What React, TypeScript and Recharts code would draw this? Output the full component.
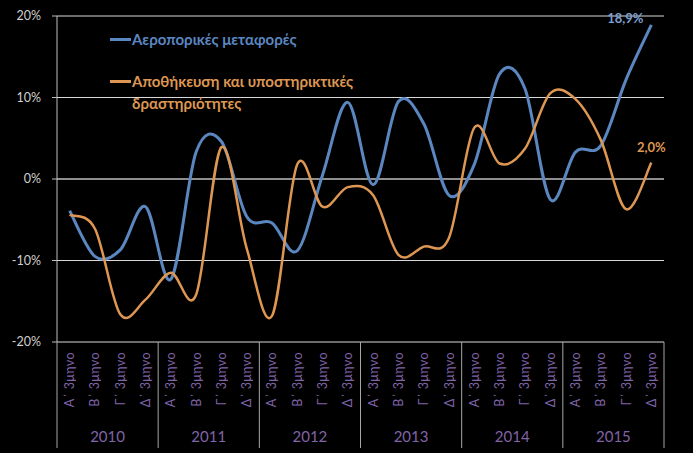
import { CartesianGrid, LabelList, Legend, Line, LineChart, ReferenceLine, XAxis, YAxis } from 'recharts';

const QUARTERS = [
  'Α΄ 3μηνο', 'Β΄ 3μηνο', 'Γ΄ 3μηνο', 'Δ΄ 3μηνο',
  'Α΄ 3μηνο', 'Β΄ 3μηνο', 'Γ΄ 3μηνο', 'Δ΄ 3μηνο',
  'Α΄ 3μηνο', 'Β΄ 3μηνο', 'Γ΄ 3μηνο', 'Δ΄ 3μηνο',
  'Α΄ 3μηνο', 'Β΄ 3μηνο', 'Γ΄ 3μηνο', 'Δ΄ 3μηνο',
  'Α΄ 3μηνο', 'Β΄ 3μηνο', 'Γ΄ 3μηνο', 'Δ΄ 3μηνο',
  'Α΄ 3μηνο', 'Β΄ 3μηνο', 'Γ΄ 3μηνο', 'Δ΄ 3μηνο',
];
const YEARS = ['2010', '2011', '2012', '2013', '2014', '2015'];

const AIR_TRANSPORT = [
  -3.9, -9.5, -8.7, -3.4, -12.3, 3.3, 4.6, -4.6, -5.4, -8.8, 0.5, 9.4,
  -0.7, 9.5, 6.8, -2.0, 1.8, 12.9, 11.1, -2.5, 3.3, 4.1, 12.2, 18.9,
];
const WAREHOUSING = [
  -4.4, -6.1, -16.6, -14.8, -11.5, -14.2, 3.9, -8.5, -16.8, 1.8, -3.4, -1.0,
  -2.0, -9.3, -8.3, -7.2, 6.3, 1.9, 3.7, 10.5, 9.8, 4.8, -3.7, 2.0,
];
const Y_TICKS = [-20, -10, 0, 10, 20];

const AIR_NAME = 'Αεροπορικές μεταφορές';
const WARE_NAME = 'Αποθήκευση και υποστηρικτικές δραστηριότητες';

const BLUE = '#5b87c0';
const ORANGE = '#de9752';
const PURPLE = '#8064a8';
const FONT = 'Lato, "Open Sans", sans-serif';

const W = 693;
const H = 453;
const Y_AXIS_W = 57;
const RIGHT = 29;
const PLOT_W = W - Y_AXIS_W - RIGHT;
const BAND = PLOT_W / QUARTERS.length;

const data = QUARTERS.map((q, i) => ({
  q,
  air: AIR_TRANSPORT[i],
  ware: WAREHOUSING[i],
}));

// Excel-like smoothed line (uniform Catmull-Rom through every point)
const smoothCurve: any = (context: any) => {
  let pts: number[][] = [];
  return {
    areaStart() {},
    areaEnd() {},
    lineStart() {
      pts = [];
    },
    lineEnd() {
      const n = pts.length;
      if (!n) return;
      context.moveTo(pts[0][0], pts[0][1]);
      for (let i = 0; i < n - 1; i++) {
        const p0 = pts[Math.max(0, i - 1)];
        const p1 = pts[i];
        const p2 = pts[i + 1];
        const p3 = pts[Math.min(n - 1, i + 2)];
        context.bezierCurveTo(
          p1[0] + (p2[0] - p0[0]) / 6,
          p1[1] + (p2[1] - p0[1]) / 6,
          p2[0] - (p3[0] - p1[0]) / 6,
          p2[1] - (p3[1] - p1[1]) / 6,
          p2[0],
          p2[1],
        );
      }
    },
    point(x: number, y: number) {
      pts.push([+x, +y]);
    },
  };
};

const fmt = (v: number) => `${v.toFixed(1).replace('.', ',')}%`;

function QuarterTick(props: any) {
  const { x, y, payload, index } = props;
  const last = index === QUARTERS.length - 1;
  return (
    <g>
      <text
        transform={`translate(${x + 4.5},${y + 10}) rotate(-90)`}
        textAnchor="end"
        fontSize={12.5}
        letterSpacing={0.4}
        fontFamily={FONT}
        fill={PURPLE}
      >
        {payload.value}
      </text>
      {index % 4 === 0 && (
        <>
          <line x1={x - BAND / 2} x2={x - BAND / 2} y1={y} y2={y + 106} stroke="#a6a6a6" />
          <text
            x={x + BAND * 1.5}
            y={y + 100}
            textAnchor="middle"
            fontSize={15}
            fontFamily={FONT}
            fill={PURPLE}
          >
            {YEARS[index / 4]}
          </text>
        </>
      )}
      {last && <line x1={x + BAND / 2} x2={x + BAND / 2} y1={y} y2={y + 106} stroke="#a6a6a6" />}
    </g>
  );
}

function EndLabel({ color, dx, dy }: { color: string; dx: number; dy: number }) {
  return (props: any) => {
    const { x, y, index, value } = props;
    if (index !== QUARTERS.length - 1) return null;
    return (
      <text x={x + dx} y={y + dy} textAnchor="middle" fontSize={13} fontWeight="bold" fontFamily={FONT} fill={color}>
        {fmt(value)}
      </text>
    );
  };
}

function LegendBox() {
  const row = (color: string, top: number, lines: string[]) => (
    <div style={{ position: 'absolute', left: 0, top, whiteSpace: 'nowrap' }}>
      <div style={{ position: 'absolute', left: 2, top: 10, width: 21, height: 2.5, background: color }} />
      <div style={{ marginLeft: 24, color, fontSize: 15, fontWeight: 'bold', lineHeight: '22px', fontFamily: FONT }}>
        {lines.map((l) => (
          <div key={l}>{l}</div>
        ))}
      </div>
    </div>
  );
  return (
    <div style={{ position: 'relative', width: 300, height: 90 }}>
      {row(BLUE, 0, [AIR_NAME])}
      {row(ORANGE, 42, ['Αποθήκευση και υποστηρικτικές', 'δραστηριότητες'])}
    </div>
  );
}

export default function App() {
  return (
    <div style={{ position: 'absolute', left: 0, top: 0, width: W, height: H, background: '#000' }}>
      <LineChart width={W} height={H} data={data} margin={{ top: 16, right: RIGHT, left: 0, bottom: 0 }}>
        <CartesianGrid horizontal vertical={false} stroke="#d9d9d9" />
        <XAxis
          dataKey="q"
          height={111}
          interval={0}
          padding={{ left: BAND / 2, right: BAND / 2 }}
          axisLine={false}
          tickLine={false}
          tickSize={0}
          tickMargin={0}
          tick={<QuarterTick />}
        />
        <YAxis
          width={Y_AXIS_W}
          domain={[-20, 20]}
          ticks={Y_TICKS}
          interval={0}
          tickFormatter={(v: number) => `${v}%`}
          axisLine={{ stroke: '#bfbfbf' }}
          tickLine={{ stroke: '#bfbfbf' }}
          tickSize={5}
          tickMargin={11}
          tick={{ fill: '#d0d0d0', fontSize: 12.5, fontFamily: FONT }}
        />
        <ReferenceLine y={0} stroke="#9a9a9a" strokeWidth={1.5} />
        <Legend
          layout="vertical"
          align="center"
          verticalAlign="middle"
          wrapperStyle={{ left: 108, top: 28, width: 300, height: 90 }}
          content={() => <LegendBox />}
        />
        <Line
          name={AIR_NAME}
          dataKey="air"
          type={smoothCurve}
          stroke={BLUE}
          strokeWidth={3}
          dot={false}
          isAnimationActive={false}
        >
          <LabelList dataKey="air" content={EndLabel({ color: '#7d9fcf', dx: -26, dy: -2 })} />
        </Line>
        <Line
          name={WARE_NAME}
          dataKey="ware"
          type={smoothCurve}
          stroke={ORANGE}
          strokeWidth={2.5}
          dot={false}
          isAnimationActive={false}
        >
          <LabelList dataKey="ware" content={EndLabel({ color: ORANGE, dx: 0, dy: -11 })} />
        </Line>
      </LineChart>
    </div>
  );
}
